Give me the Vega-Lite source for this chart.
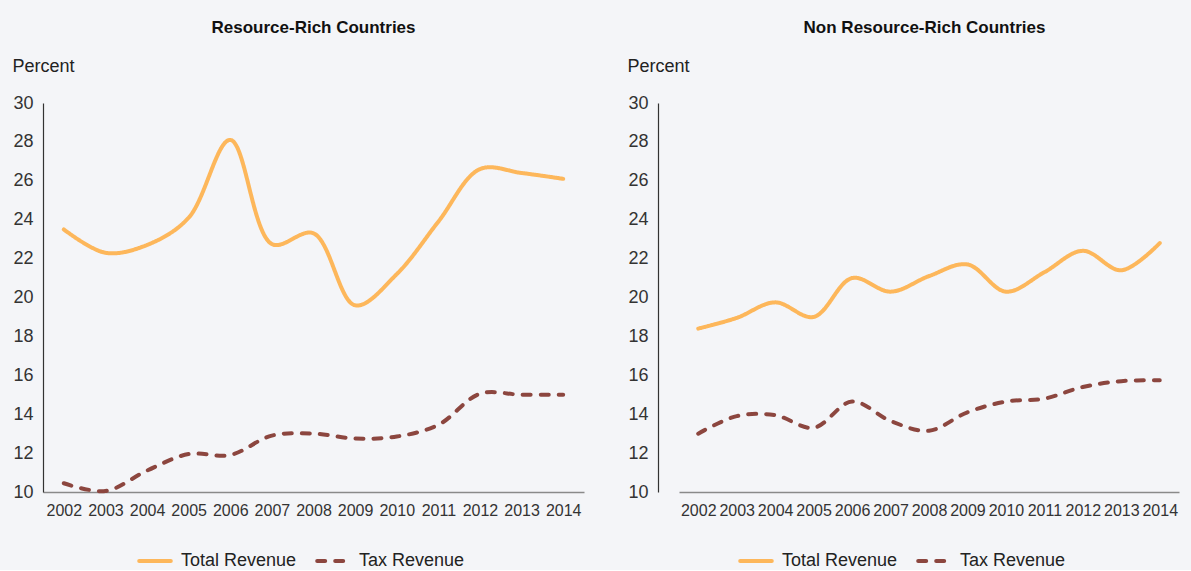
{
  "$schema": "https://vega.github.io/schema/vega-lite/v6.json",
  "background": "#f4f5f8",
  "padding": {"left": 12, "top": 19, "right": 0, "bottom": 0},
  "data": {"values": [
    {"panel": "RR", "series": "Total Revenue", "year": "2002", "value": 23.5},
    {"panel": "RR", "series": "Total Revenue", "year": "2003", "value": 22.3},
    {"panel": "RR", "series": "Total Revenue", "year": "2004", "value": 22.7},
    {"panel": "RR", "series": "Total Revenue", "year": "2005", "value": 24.1},
    {"panel": "RR", "series": "Total Revenue", "year": "2006", "value": 28.1},
    {"panel": "RR", "series": "Total Revenue", "year": "2007", "value": 22.75},
    {"panel": "RR", "series": "Total Revenue", "year": "2008", "value": 23.3},
    {"panel": "RR", "series": "Total Revenue", "year": "2009", "value": 19.6},
    {"panel": "RR", "series": "Total Revenue", "year": "2010", "value": 21.2},
    {"panel": "RR", "series": "Total Revenue", "year": "2011", "value": 23.9},
    {"panel": "RR", "series": "Total Revenue", "year": "2012", "value": 26.6},
    {"panel": "RR", "series": "Total Revenue", "year": "2013", "value": 26.4},
    {"panel": "RR", "series": "Total Revenue", "year": "2014", "value": 26.1},
    {"panel": "RR", "series": "Tax Revenue", "year": "2002", "value": 10.45},
    {"panel": "RR", "series": "Tax Revenue", "year": "2003", "value": 10.05},
    {"panel": "RR", "series": "Tax Revenue", "year": "2004", "value": 11.1},
    {"panel": "RR", "series": "Tax Revenue", "year": "2005", "value": 11.95},
    {"panel": "RR", "series": "Tax Revenue", "year": "2006", "value": 11.9},
    {"panel": "RR", "series": "Tax Revenue", "year": "2007", "value": 12.9},
    {"panel": "RR", "series": "Tax Revenue", "year": "2008", "value": 13.0},
    {"panel": "RR", "series": "Tax Revenue", "year": "2009", "value": 12.75},
    {"panel": "RR", "series": "Tax Revenue", "year": "2010", "value": 12.85},
    {"panel": "RR", "series": "Tax Revenue", "year": "2011", "value": 13.45},
    {"panel": "RR", "series": "Tax Revenue", "year": "2012", "value": 15.05},
    {"panel": "RR", "series": "Tax Revenue", "year": "2013", "value": 15.0},
    {"panel": "RR", "series": "Tax Revenue", "year": "2014", "value": 15.0},
    {"panel": "NRR", "series": "Total Revenue", "year": "2002", "value": 18.4},
    {"panel": "NRR", "series": "Total Revenue", "year": "2003", "value": 18.95},
    {"panel": "NRR", "series": "Total Revenue", "year": "2004", "value": 19.75},
    {"panel": "NRR", "series": "Total Revenue", "year": "2005", "value": 19.0},
    {"panel": "NRR", "series": "Total Revenue", "year": "2006", "value": 21.0},
    {"panel": "NRR", "series": "Total Revenue", "year": "2007", "value": 20.3},
    {"panel": "NRR", "series": "Total Revenue", "year": "2008", "value": 21.1},
    {"panel": "NRR", "series": "Total Revenue", "year": "2009", "value": 21.7},
    {"panel": "NRR", "series": "Total Revenue", "year": "2010", "value": 20.3},
    {"panel": "NRR", "series": "Total Revenue", "year": "2011", "value": 21.3},
    {"panel": "NRR", "series": "Total Revenue", "year": "2012", "value": 22.4},
    {"panel": "NRR", "series": "Total Revenue", "year": "2013", "value": 21.4},
    {"panel": "NRR", "series": "Total Revenue", "year": "2014", "value": 22.8},
    {"panel": "NRR", "series": "Tax Revenue", "year": "2002", "value": 13.0},
    {"panel": "NRR", "series": "Tax Revenue", "year": "2003", "value": 13.9},
    {"panel": "NRR", "series": "Tax Revenue", "year": "2004", "value": 13.95},
    {"panel": "NRR", "series": "Tax Revenue", "year": "2005", "value": 13.3},
    {"panel": "NRR", "series": "Tax Revenue", "year": "2006", "value": 14.65},
    {"panel": "NRR", "series": "Tax Revenue", "year": "2007", "value": 13.65},
    {"panel": "NRR", "series": "Tax Revenue", "year": "2008", "value": 13.15},
    {"panel": "NRR", "series": "Tax Revenue", "year": "2009", "value": 14.1},
    {"panel": "NRR", "series": "Tax Revenue", "year": "2010", "value": 14.65},
    {"panel": "NRR", "series": "Tax Revenue", "year": "2011", "value": 14.8},
    {"panel": "NRR", "series": "Tax Revenue", "year": "2012", "value": 15.4},
    {"panel": "NRR", "series": "Tax Revenue", "year": "2013", "value": 15.7},
    {"panel": "NRR", "series": "Tax Revenue", "year": "2014", "value": 15.75}
  ]},
  "spacing": 43,
  "resolve": {
    "scale": {"color": "independent", "strokeDash": "independent", "x": "independent", "y": "independent"},
    "legend": {"color": "independent", "strokeDash": "independent"}
  },
  "hconcat": [
    {
      "width": 541,
      "height": 389,
      "title": {"text": "Resource-Rich Countries"},
      "transform": [{"filter": "datum.panel === 'RR'"}],
      "mark": {"type": "line", "interpolate": "catmull-rom", "strokeWidth": 4, "strokeCap": "round"},
      "encoding": {
        "x": {"field": "year", "type": "ordinal", "title": null,
              "scale": {"type": "point", "padding": 0.5}},
        "y": {"field": "value", "type": "quantitative", "title": "Percent",
              "scale": {"domain": [10, 30], "nice": false},
              "axis": {"values": [10, 12, 14, 16, 18, 20, 22, 24, 26, 28, 30]}},
        "color": {"field": "series", "type": "nominal",
                  "scale": {"domain": ["Total Revenue", "Tax Revenue"], "range": ["#fdb75b", "#8c463f"]},
                  "legend": {"orient": "none", "legendX": 94, "legendY": 440,
                             "encode": {"symbols": {"update": {"strokeCap": {"value": "round"}}}}}},
        "strokeDash": {"field": "series", "type": "nominal",
                  "scale": {"domain": ["Total Revenue", "Tax Revenue"], "range": [[1, 0], [8, 10]]},
                  "legend": {"orient": "none", "legendX": 94, "legendY": 440,
                             "encode": {"symbols": {"update": {"strokeCap": {"value": "round"}}}}}}
      }
    },
    {
      "width": 533,
      "height": 389,
      "title": {"text": "Non Resource-Rich Countries"},
      "transform": [{"filter": "datum.panel === 'NRR'"}],
      "mark": {"type": "line", "interpolate": "catmull-rom", "strokeWidth": 4, "strokeCap": "round"},
      "encoding": {
        "x": {"field": "year", "type": "ordinal", "title": null,
              "scale": {"type": "point", "range": [21, 521]}},
        "y": {"field": "value", "type": "quantitative", "title": "Percent",
              "scale": {"domain": [10, 30], "nice": false},
              "axis": {"values": [10, 12, 14, 16, 18, 20, 22, 24, 26, 28, 30]}},
        "color": {"field": "series", "type": "nominal",
                  "scale": {"domain": ["Total Revenue", "Tax Revenue"], "range": ["#fdb75b", "#8c463f"]},
                  "legend": {"orient": "none", "legendX": 80, "legendY": 440,
                             "encode": {"symbols": {"update": {"strokeCap": {"value": "round"}}}}}},
        "strokeDash": {"field": "series", "type": "nominal",
                  "scale": {"domain": ["Total Revenue", "Tax Revenue"], "range": [[1, 0], [8, 10]]},
                  "legend": {"orient": "none", "legendX": 80, "legendY": 440,
                             "encode": {"symbols": {"update": {"strokeCap": {"value": "round"}}}}}}
      }
    }
  ],
  "config": {
    "font": "Liberation Sans, sans-serif",
    "view": {"stroke": null},
    "title": {"fontSize": 17, "fontWeight": "bold", "color": "#111111", "anchor": "middle", "frame": "group", "offset": 20},
    "axis": {"grid": false, "ticks": false, "labelColor": "#333333", "labelPadding": 10},
    "axisX": {"labelAngle": 0, "labelFontSize": 16, "domainColor": "#8a8a8a", "domainWidth": 1.5},
    "axisY": {"labelFontSize": 18, "domainColor": "#333333", "domainWidth": 1.2,
              "titleAngle": 0, "titleAlign": "left", "titleBaseline": "middle", "titleX": -31, "titleY": -37,
              "titleFontSize": 18, "titleFontWeight": "normal", "titleColor": "#222222"},
    "legend": {"title": null, "direction": "horizontal", "symbolType": "stroke", "symbolSize": 1000,
               "symbolStrokeWidth": 4, "labelFontSize": 18, "labelColor": "#222222", "columnPadding": 12, "labelOffset": 8}
  }
}
